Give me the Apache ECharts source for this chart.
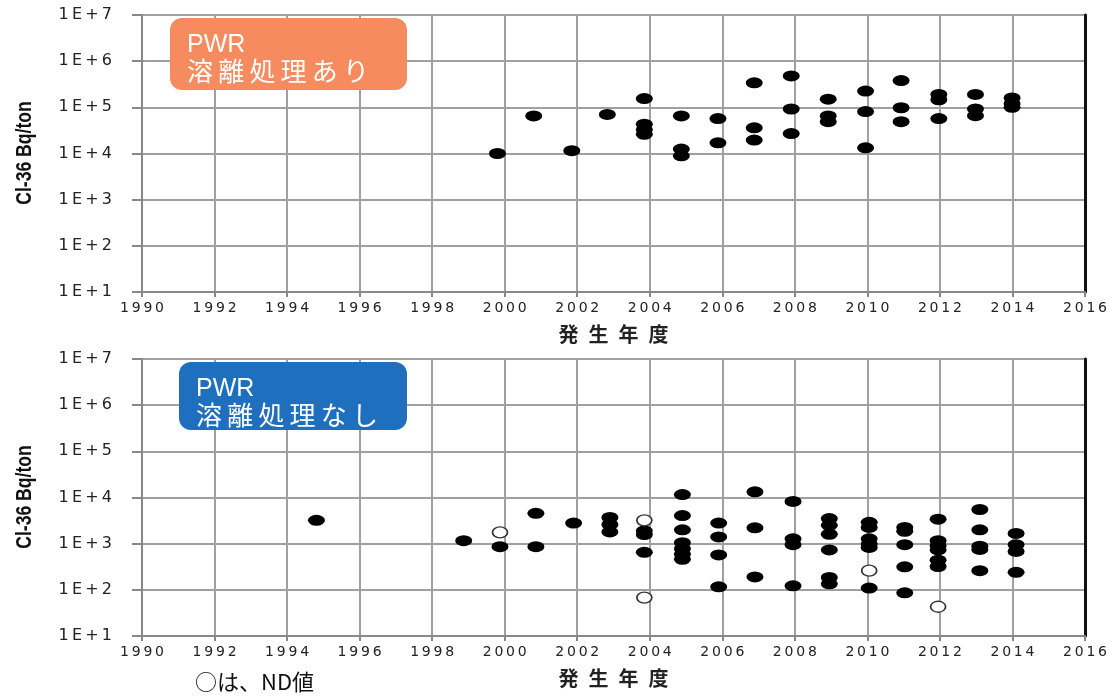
<!DOCTYPE html>
<html><head><meta charset="utf-8">
<script src="https://cdn.jsdelivr.net/npm/echarts@6/dist/echarts.min.js"></script>
<style>html,body{margin:0;padding:0;background:#fff}#c{width:1118px;height:698px}</style>
</head><body><div id="c"></div>
<script>
// ---- data (fiscal year position, Bq/ton) ----
const yearTicks = [1990,1992,1994,1996,1998,2000,2002,2004,2006,2008,2010,2012,2014,2016];
const decadeTicks = [10,100,1000,10000,100000,1000000,10000000];

// Top: PWR 溶離処理あり
const topYears  = [1999.8,2000.8,2001.85,2002.83,2003.85,2003.85,2003.85,2003.85,2004.87,2004.87,2004.87,2005.88,2005.88,2006.88,2006.88,2006.88,2007.9,2007.9,2007.9,2008.92,2008.92,2008.92,2009.95,2009.95,2009.95,2010.93,2010.93,2010.93,2011.97,2011.97,2011.97,2012.98,2012.98,2012.98,2013.99,2013.99,2013.99];
const topValues = [1.0e4,6.5e4,1.15e4,7.0e4,1.55e5,4.3e4,3.3e4,2.6e4,6.5e4,1.25e4,8.9e3,5.7e4,1.7e4,3.4e5,3.6e4,1.95e4,4.8e5,9.2e4,2.7e4,1.5e5,6.5e4,4.9e4,2.25e5,8.1e4,1.33e4,3.8e5,9.8e4,4.9e4,1.9e5,1.46e5,5.7e4,1.9e5,9.2e4,6.6e4,1.6e5,1.2e5,1.0e5];

// Bottom: PWR 溶離処理なし (detected)
const botYears  = [1994.81,1998.87,1999.87,2000.86,2000.86,2001.9,2002.9,2002.9,2002.9,2003.85,2003.85,2003.85,2004.9,2004.9,2004.9,2004.9,2004.9,2004.9,2004.9,2005.9,2005.9,2005.9,2005.9,2006.9,2006.9,2006.9,2007.95,2007.95,2007.95,2007.95,2008.95,2008.95,2008.95,2008.95,2008.95,2008.95,2010.05,2010.05,2010.05,2010.05,2010.05,2010.05,2011.03,2011.03,2011.03,2011.03,2011.03,2011.95,2011.95,2011.95,2011.95,2011.95,2011.95,2013.1,2013.1,2013.1,2013.1,2013.1,2014.1,2014.1,2014.1,2014.1];
const botValues = [3.2e3,1.16e3,8.6e2,4.55e3,8.6e2,2.8e3,3.7e3,2.6e3,1.8e3,1.9e3,1.57e3,6.5e2,1.16e4,4.05e3,2.0e3,1.05e3,7.8e2,5.9e2,4.6e2,2.8e3,1.4e3,5.7e2,116,1.33e4,2.2e3,190,8.2e3,1.27e3,9.5e2,122,3.5e3,2.5e3,1.6e3,7.3e2,185,135,2.9e3,2.25e3,1.27e3,9.8e2,8.3e2,109,2.25e3,1.85e3,9.5e2,316,86,3.4e3,1.16e3,9.0e2,7.3e2,4.4e2,3.2e2,5.5e3,2.0e3,8.8e2,7.5e2,2.6e2,1.67e3,9.5e2,6.8e2,2.4e2];

// Bottom: ND values (open circles)
const ndYears  = [1999.87,2003.85,2003.85,2010.05,2011.95];
const ndValues = [1.76e3,3.2e3,68,2.6e2,43];

const zip = (xs, ys) => xs.map((x, i) => [x, ys[i]]);
const ell = 'path://M0 5A5 5 0 1 0 10 5A5 5 0 1 0 0 5Z';
const sp = s => s.split('').join('\u2009');

function xAxis(gi) {
  return {
    type: 'value', gridIndex: gi, min: 1990, max: 2016, interval: 2,
    name: '発\u2002生\u2002年\u2002度', nameLocation: 'middle', nameGap: 32,
    nameTextStyle: {fontFamily: 'Noto Sans CJK JP', fontSize: 20, fontWeight: 'bold', color: '#222'},
    axisLine: {show: true, onZero: false, lineStyle: {color: '#888', width: 2}},
    axisTick: {show: true, length: 5, lineStyle: {color: '#888', width: 2}},
    axisLabel: {margin: 9, fontFamily: 'DejaVu Sans', fontSize: 14, color: '#222', formatter: v => sp(String(v))},
    splitLine: {show: true, showMaxLine: false, lineStyle: {color: '#a0a0a0', width: 2}}
  };
}
function yAxis(gi) {
  return {
    type: 'log', logBase: 10, gridIndex: gi, min: 10, max: 1e7,
    axisLine: {show: true, lineStyle: {color: '#888', width: 2}},
    axisTick: {show: true, inside: false, length: 10, lineStyle: {color: '#888', width: 2}},
    axisLabel: {margin: 30, fontFamily: 'DejaVu Sans', fontSize: 16, color: '#222',
      formatter: v => sp('1E+' + Math.round(Math.log10(v)))},
    splitLine: {show: true, showMaxLine: false, lineStyle: {color: '#a0a0a0', width: 2}},
    minorTick: {show: false}
  };
}
function rightAxis(gi) {
  return {
    type: 'log', logBase: 10, gridIndex: gi, min: 10, max: 1e7, position: 'right',
    axisLine: {show: true, lineStyle: {color: '#111', width: 3}},
    axisTick: {show: false}, axisLabel: {show: false}, splitLine: {show: false}
  };
}

function box(x, y, w, h, color, line2) {
  return [
    {type: 'rect', left: x, top: y, shape: {width: w, height: h, r: 12}, style: {fill: color}, z: 100},
    {type: 'text', left: x + 17, top: y + 15, z: 101,
      style: {text: 'PWR', fill: '#fff', fontFamily: 'Liberation Sans', fontSize: 25}},
    {type: 'text', left: x + 17, top: y + 40, z: 101,
      style: {text: sp(line2), fill: '#fff', fontFamily: 'Noto Sans CJK JP', fontSize: 26}}
  ];
}
function yName(cy) {
  return {type: 'text', x: 25, y: cy, rotation: Math.PI / 2, scaleX: 0.8, z: 50,
    style: {text: 'Cl-36 Bq/ton', fill: '#111', fontFamily: 'Liberation Sans', fontSize: 22, fontWeight: 'bold',
      align: 'center', verticalAlign: 'middle'}};
}

const chart = echarts.init(document.getElementById('c'), null, {renderer: 'canvas'});
chart.setOption({
  animation: false,
  backgroundColor: '#fff',
  grid: [
    {left: 142, top: 15, width: 943, height: 277, show: true, borderColor: '#444', borderWidth: 1},
    {left: 142, top: 359, width: 943, height: 277, show: true, borderColor: '#444', borderWidth: 1}
  ],
  xAxis: [xAxis(0), xAxis(1)],
  yAxis: [yAxis(0), yAxis(1), rightAxis(0), rightAxis(1)],
  series: [
    {type: 'scatter', xAxisIndex: 0, yAxisIndex: 0, data: zip(topYears, topValues),
      symbol: ell, symbolSize: [17, 11], itemStyle: {color: '#000', opacity: 1}, z: 5},
    {type: 'scatter', xAxisIndex: 1, yAxisIndex: 1, data: zip(botYears, botValues),
      symbol: ell, symbolSize: [17, 11], itemStyle: {color: '#000', opacity: 1}, z: 5},
    {type: 'scatter', xAxisIndex: 1, yAxisIndex: 1, data: zip(ndYears, ndValues),
      symbol: ell, symbolSize: [15, 11], itemStyle: {color: '#fff', borderColor: '#333', borderWidth: 1.5, opacity: 1}, z: 6}
  ],
  graphic: [
    ...box(170, 18, 237, 72, '#F58B5F', '溶離処理あり'),
    ...box(179, 362, 228, 68, '#1F6FBF', '溶離処理なし'),
    yName(153), yName(497),
    {type: 'text', left: 195, top: 671, style: {text: '○は、ND値', fill: '#111', fontFamily: 'Noto Sans CJK JP', fontSize: 22}}
  ]
});
</script></body></html>
